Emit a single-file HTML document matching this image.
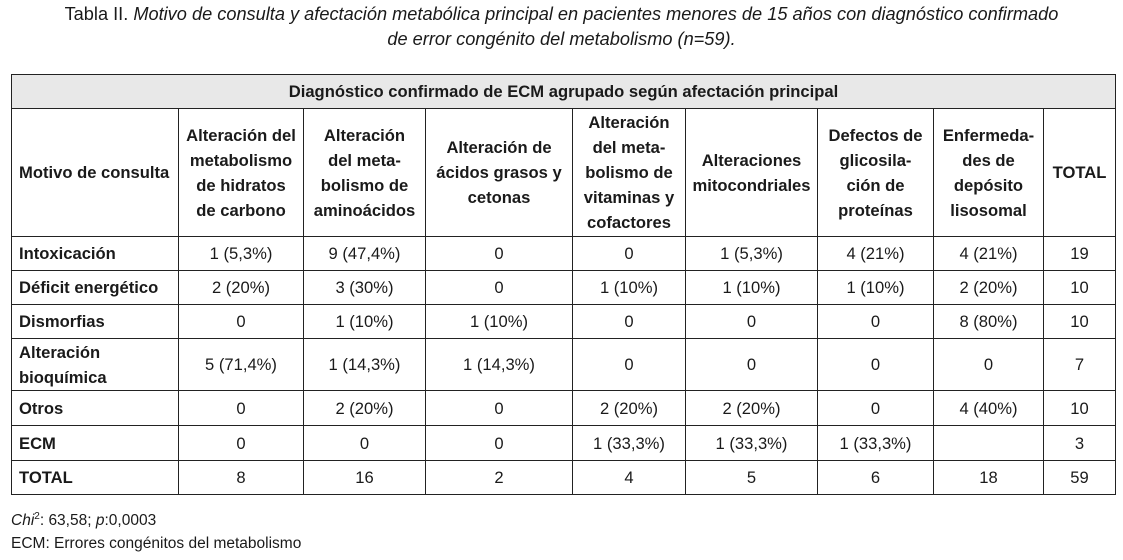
<!DOCTYPE html>
<html><head><meta charset="utf-8"><style>
body{margin:0;width:1123px;height:560px;background:#fff;font-family:"Liberation Sans",sans-serif;color:#1a1a1a;position:relative;overflow:hidden}
.title{position:absolute;left:0;width:1123px;text-align:center;font-size:18.2px;line-height:25px;top:2px;white-space:nowrap}
table{position:absolute;left:11px;top:74px;border-collapse:collapse;font-size:16.6px;table-layout:fixed}
td{border:1.5px solid #222;text-align:center;padding:0 2px;line-height:25px;white-space:nowrap}
td.l{text-align:left;padding-left:7px}
.h td{font-weight:bold}
.g td{background:#e8e8e8}
.foot{position:absolute;left:11px;font-size:15.5px}
</style></head><body>
<div class="title">Tabla II. <i>Motivo de consulta y afectación metabólica principal en pacientes menores de 15 años con diagnóstico confirmado<br>de error congénito del metabolismo (n=59).</i></div>
<table>
<colgroup><col style="width:167px"><col style="width:125px"><col style="width:122px"><col style="width:147px"><col style="width:113px"><col style="width:132px"><col style="width:116px"><col style="width:110px"><col style="width:72px"></colgroup>
<tr class="h g" style="height:34px"><td colspan="9">Diagnóstico confirmado de ECM agrupado según afectación principal</td></tr>
<tr class="h" style="height:128px"><td class="l">Motivo de consulta</td><td>Alteración del<br>metabolismo<br>de hidratos<br>de carbono</td><td>Alteración<br>del meta-<br>bolismo de<br>aminoácidos</td><td>Alteración de<br>ácidos grasos y<br>cetonas</td><td>Alteración<br>del meta-<br>bolismo de<br>vitaminas y<br>cofactores</td><td>Alteraciones<br>mitocondriales</td><td>Defectos de<br>glicosila-<br>ción de<br>proteínas</td><td>Enfermeda-<br>des de<br>depósito<br>lisosomal</td><td>TOTAL</td></tr>
<tr style="height:34px"><td class="l"><b>Intoxicación</b></td><td>1 (5,3%)</td><td>9 (47,4%)</td><td>0</td><td>0</td><td>1 (5,3%)</td><td>4 (21%)</td><td>4 (21%)</td><td>19</td></tr>
<tr style="height:34px"><td class="l"><b>Déficit energético</b></td><td>2 (20%)</td><td>3 (30%)</td><td>0</td><td>1 (10%)</td><td>1 (10%)</td><td>1 (10%)</td><td>2 (20%)</td><td>10</td></tr>
<tr style="height:34px"><td class="l"><b>Dismorfias</b></td><td>0</td><td>1 (10%)</td><td>1 (10%)</td><td>0</td><td>0</td><td>0</td><td>8 (80%)</td><td>10</td></tr>
<tr style="height:52px"><td class="l"><b>Alteración<br>bioquímica</b></td><td>5 (71,4%)</td><td>1 (14,3%)</td><td>1 (14,3%)</td><td>0</td><td>0</td><td>0</td><td>0</td><td>7</td></tr>
<tr style="height:35px"><td class="l"><b>Otros</b></td><td>0</td><td>2 (20%)</td><td>0</td><td>2 (20%)</td><td>2 (20%)</td><td>0</td><td>4 (40%)</td><td>10</td></tr>
<tr style="height:35px"><td class="l"><b>ECM</b></td><td>0</td><td>0</td><td>0</td><td>1 (33,3%)</td><td>1 (33,3%)</td><td>1 (33,3%)</td><td></td><td>3</td></tr>
<tr style="height:34px"><td class="l"><b>TOTAL</b></td><td>8</td><td>16</td><td>2</td><td>4</td><td>5</td><td>6</td><td>18</td><td>59</td></tr>
</table>
<div class="foot" style="top:511px"><i>Chi</i><sup style="font-size:10px">2</sup>: 63,58; <i>p</i>:0,0003</div>
<div class="foot" style="top:535px">ECM: Errores congénitos del metabolismo</div>
</body></html>
